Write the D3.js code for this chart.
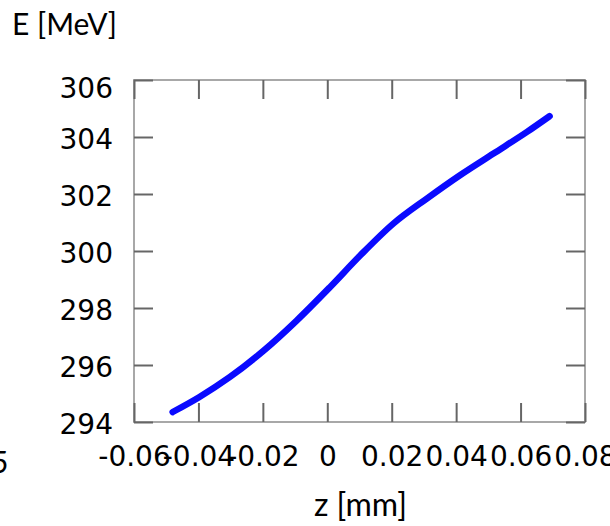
<!DOCTYPE html>
<html>
<head>
<meta charset="utf-8">
<script src="https://cdn.jsdelivr.net/npm/d3@7"></script>
<style>
  body { margin: 0; background: #fff; }
  .tick text { font-family: "DejaVu Sans", sans-serif; font-size: 28px; fill: #000; }
  .label { font-family: Lato, "Liberation Sans", sans-serif; font-size: 30px; fill: #000; }
</style>
</head>
<body>
<div id="chart"></div>
<script>
// data
const zValues = [-0.0480, -0.0398, -0.0302, -0.0198, -0.0095, 0.0009, 0.0102, 0.0205, 0.0309, 0.0412, 0.0516, 0.0620, 0.0690]
const eValues = [294.35, 294.87, 295.58, 296.50, 297.56, 298.74, 299.84, 300.96, 301.84, 302.66, 303.42, 304.18, 304.73]
const xTicks = [-0.06, -0.04, -0.02, 0, 0.02, 0.04, 0.06, 0.08]
const yTicks = [294, 296, 298, 300, 302, 304, 306]

const data = zValues.map((z, i) => ({ z: z, e: eValues[i] }))

// constants
const width = 610
const height = 526
const margin = ({ top: 80, right: 25, bottom: 104, left: 134 })

const svg = d3.select("#chart")
  .append("svg")
  .attr("width", width)
  .attr("height", height)

// SCALES
const xScale = d3.scaleLinear()
  .domain([-0.06, 0.08])
  .range([margin.left, width - margin.right])

const yScale = d3.scaleLinear()
  .domain([294, 306])
  .range([height - margin.bottom, margin.top])

const tickLen = 19
const fmt = d => d === 0 ? "0" : d3.format(".2f")(d).replace("\u2212", "-")

// frame
svg.append("rect")
  .attr("x", xScale.range()[0])
  .attr("y", yScale.range()[1])
  .attr("width", xScale.range()[1] - xScale.range()[0])
  .attr("height", yScale.range()[0] - yScale.range()[1])
  .attr("fill", "none")
  .attr("stroke", "#a8a8a8")
  .attr("stroke-width", 2)

// axes (ticks point inwards, mirrored on top/right)
const xBottom = svg.append("g")
  .attr("transform", `translate(0,${yScale.range()[0]})`)
  .call(d3.axisBottom(xScale).tickValues(xTicks).tickSizeInner(-tickLen).tickSizeOuter(0).tickPadding(34).tickFormat(fmt))
const xTop = svg.append("g")
  .attr("transform", `translate(0,${yScale.range()[1]})`)
  .call(d3.axisTop(xScale).tickValues(xTicks).tickSizeInner(-tickLen).tickSizeOuter(0).tickFormat(""))
const yLeft = svg.append("g")
  .attr("transform", `translate(${xScale.range()[0]},0)`)
  .call(d3.axisLeft(yScale).tickValues(yTicks).tickSizeInner(-tickLen).tickSizeOuter(0).tickPadding(21).tickFormat(d => d))
const yRight = svg.append("g")
  .attr("transform", `translate(${xScale.range()[1]},0)`)
  .call(d3.axisRight(yScale).tickValues(yTicks).tickSizeInner(-tickLen).tickSizeOuter(0).tickFormat(""))

svg.selectAll(".domain").remove()
svg.selectAll(".tick line").attr("stroke", "#666").attr("stroke-width", 2)
xBottom.selectAll(".tick text").attr("dy", "0.36em")
yLeft.selectAll(".tick text")
  .attr("dy", "0.4em")
  .attr("y", d => Math.max(0, 6 - (yScale(d) - margin.top)))

// curve
const line = d3.line()
  .x(d => xScale(d.z))
  .y(d => yScale(d.e))
  .curve(d3.curveMonotoneX)

svg.append("path")
  .datum(data)
  .attr("d", line)
  .attr("fill", "none")
  .attr("stroke", "#0a0aff")
  .attr("stroke-width", 6.5)
  .attr("stroke-linecap", "round")

// labels
svg.append("text")
  .attr("class", "label")
  .attr("x", 12)
  .attr("y", 35)
  .text("E [MeV]")

svg.append("text")
  .attr("class", "label")
  .attr("x", (xScale.range()[0] + xScale.range()[1]) / 2 + 1)
  .attr("y", 516)
  .attr("text-anchor", "middle")
  .style("font-size", "32px")
  .text("z [mm]")

// fragment of a neighbouring label cut by the crop
svg.append("text")
  .attr("class", "label")
  .attr("x", -9)
  .attr("y", 473)
  .text("5")
</script>
</body>
</html>
